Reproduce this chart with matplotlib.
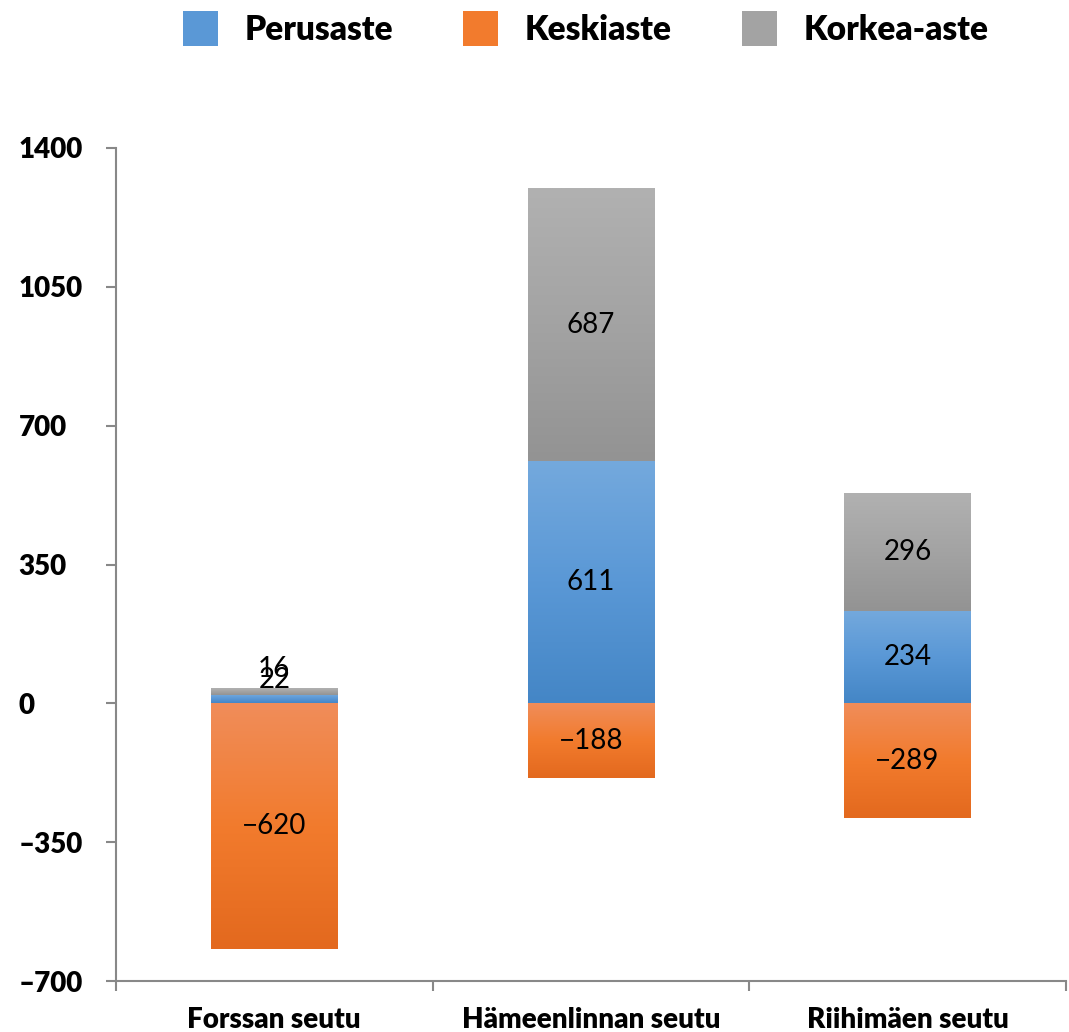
import numpy as np
import matplotlib.pyplot as plt
from matplotlib.colors import LinearSegmentedColormap
from matplotlib.patches import Patch

regions = ["Forssan seutu", "Hämeenlinnan seutu", "Riihimäen seutu"]
series = ["Perusaste", "Keskiaste", "Korkea-aste"]
perusaste = [22, 611, 234]
keskiaste = [-620, -188, -289]
korkea = [16, 687, 296]

# gradient stops (top, middle, bottom)
grad = {
    "Perusaste": ["#74a9dd", "#5a98d6", "#4486c6"],
    "Keskiaste": ["#f08d5a", "#f27b2d", "#e3691e"],
    "Korkea-aste": ["#b1b1b1", "#a3a3a3", "#939393"],
}

plt.rcParams["font.family"] = ["Lato", "DejaVu Sans"]

fig = plt.figure(figsize=(10.69, 10.32), dpi=100)
ax = fig.add_axes([0.1085, 0.0494, 0.8885, 0.8072])

x = np.arange(len(regions))
w = 0.4


def grad_bar(xc, bottom, height, name):
    bars = ax.bar(xc, height, w, bottom=bottom, color="none", edgecolor="none")
    cmap = LinearSegmentedColormap.from_list(name, grad[name][::-1])
    img = np.linspace(0, 1, 256).reshape(-1, 1)
    for b in bars:
        x0, y0 = b.get_x(), b.get_y()
        x1, y1 = x0 + b.get_width(), y0 + b.get_height()
        im = ax.imshow(img, cmap=cmap, origin="lower", aspect="auto",
                       extent=[x0, x1, min(y0, y1), max(y0, y1)], zorder=2)
        im.set_clip_path(b)
    return bars


grad_bar(x, 0, perusaste, "Perusaste")
grad_bar(x, 0, keskiaste, "Keskiaste")
grad_bar(x, perusaste, korkea, "Korkea-aste")

# value labels at segment centres (Forssan small ones pushed up like Excel does)
offsets = {("Perusaste", 0): 14, ("Korkea-aste", 0): 16}
for name, vals, bots in [("Perusaste", perusaste, [0] * 3),
                         ("Keskiaste", keskiaste, [0] * 3),
                         ("Korkea-aste", korkea, perusaste)]:
    for i, (v, b0) in enumerate(zip(vals, bots)):
        dy = offsets.get((name, i), 0)
        ax.annotate(f"{v}".replace("-", "\u2212"), (x[i], b0 + v / 2),
                    xytext=(0, dy), textcoords="offset points",
                    ha="center", va="center", fontsize=20, color="black", zorder=5)

ax.set_xlim(-0.5, 2.5)
ax.set_ylim(-700, 1400)
ax.set_yticks([-700, -350, 0, 350, 700, 1050, 1400])
ax.set_yticklabels(["\u2013700", "\u2013350", "0", "350", "700", "1050", "1400"])
ax.set_xticks([-0.5, 0.5, 1.5, 2.5])
ax.set_xticklabels([])
ax.set_xticks(x, minor=True)
ax.set_xticklabels(regions, minor=True)
ax.tick_params(axis="x", which="minor", length=0, pad=19)
ax.tick_params(axis="x", which="major", length=7, color="#888888", width=1.5, direction="out")
ax.tick_params(axis="y", length=7, color="#888888", width=1.5, direction="out", pad=63)
for lbl in ax.get_yticklabels():
    lbl.set_horizontalalignment("left")
    lbl.set_fontsize(20)
    lbl.set_fontweight("heavy")
for lbl in ax.get_xticklabels(minor=True):
    lbl.set_fontsize(20)
    lbl.set_fontweight("heavy")
for s in ["top", "right"]:
    ax.spines[s].set_visible(False)
for s in ["left", "bottom"]:
    ax.spines[s].set_color("#888888")
    ax.spines[s].set_linewidth(1.5)

handles = [Patch(facecolor=grad[n][1], edgecolor="none", label=n) for n in series]
fig.legend(handles=handles, loc="upper center", bbox_to_anchor=(0.548, 1.018), ncol=3,
           frameon=False, prop={"size": 24, "weight": "heavy"},
           handlelength=1.05, handleheight=1.2, columnspacing=2.1, handletextpad=0.8)

fig.savefig("out.png", dpi=100)
